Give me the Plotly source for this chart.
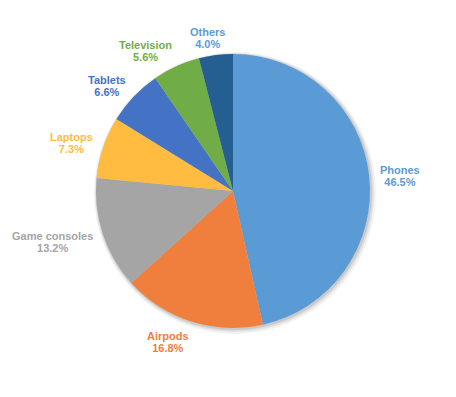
import math
import plotly.graph_objects as go

categories = ["Phones", "Airpods", "Game consoles", "Laptops", "Tablets", "Television", "Others"]
values = [46.5, 16.8, 13.2, 7.3, 6.6, 5.6, 4.0]
colors = ["#5B9BD5", "#F07E3C", "#A5A5A5", "#FFBC40", "#4472C4", "#70AD47", "#255E91"]
label_colors = ["#5B9BD5", "#F07E3C", "#A5A5A5", "#FFBC40", "#4472C4", "#70AD47", "#5B9BD5"]

W, H = 456, 397
PAGE_OFF = 8  # browser body margin
CX, CY, R = 233 - PAGE_OFF, 191 - PAGE_OFF, 137  # pixel center (from figure top-left) and radius
FONT = "Liberation Sans, Arial, sans-serif"


def dom(cx, cy, r):
    return dict(x=[(cx - r) / W, (cx + r) / W],
                y=[(H - cy - r) / H, (H - cy + r) / H])


fig = go.Figure()

# soft shadow rings
for dr, off, op in [(4, 2, 0.05), (2.5, 1.5, 0.07), (1.2, 1, 0.10)]:
    fig.add_trace(go.Pie(values=[1], labels=["s"], marker=dict(colors=[f"rgba(0,0,0,{op})"], line=dict(width=0)),
                         textinfo="none", hoverinfo="skip", showlegend=False, sort=False,
                         domain=dom(CX + off, CY + off, R + dr)))

fig.add_trace(go.Pie(
    labels=categories, values=values, sort=False, direction="clockwise", rotation=0,
    marker=dict(colors=colors, line=dict(width=0)),
    textinfo="none", showlegend=False, domain=dom(CX, CY, R),
))

total = sum(values)
cum = 0.0
for cat, v, c in zip(categories, values, label_colors):
    mid = (cum + v / 2) / total * 2 * math.pi
    cum += v
    s, co = math.sin(mid), math.cos(mid)
    r_lab = R * 1.08
    px = CX + s * r_lab
    py = CY - co * r_lab - co * 8 + 2
    lines = [cat, f"{v:.1f}%"]
    fx = max(-1.0, min(1.0, 3 * s))
    if fx >= 1:
        xa, xpos = "left", px - 1
    elif fx <= -1:
        xa, xpos = "right", px + 1
    else:
        w_est = max(len(t) for t in lines) * 6.2
        xa, xpos = "center", px + fx * w_est / 2
    txt = "<br>".join(f"<span style='font-size:11px'><b>{t}</b></span>" for t in lines)
    fig.add_annotation(x=xpos / W, y=(H - py) / H, xref="paper", yref="paper",
                       text=txt, showarrow=False,
                       xanchor=xa, yanchor="middle", align="center", borderpad=0,
                       font=dict(family=FONT, size=9.6, color=c))

fig.update_layout(width=W, height=H, margin=dict(l=0, r=0, t=0, b=0),
                  paper_bgcolor="white", plot_bgcolor="white")
fig.write_html("out.html")
